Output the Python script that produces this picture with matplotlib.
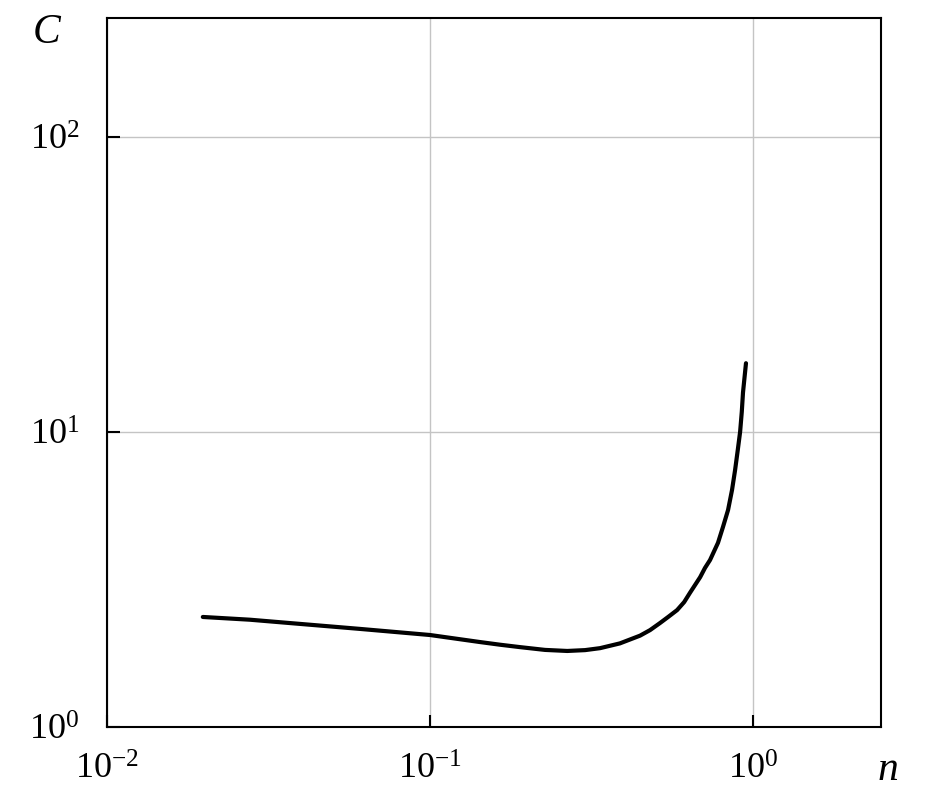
import matplotlib
matplotlib.use("Agg")
import matplotlib.pyplot as plt

plt.rcParams['font.family'] = ['Liberation Serif', 'DejaVu Serif']
plt.rcParams['mathtext.fontset'] = 'custom'
plt.rcParams['mathtext.rm'] = 'Liberation Serif'
plt.rcParams['mathtext.it'] = 'Liberation Serif:italic'

# values
n = [0.0198, 0.0277, 0.0369, 0.0607, 0.100, 0.143, 0.165, 0.190, 0.227,
     0.266, 0.302, 0.336, 0.387, 0.447, 0.480, 0.515, 0.546, 0.582,
     0.612, 0.638, 0.686, 0.710, 0.736, 0.779, 0.807, 0.837, 0.861,
     0.880, 0.897, 0.912, 0.923, 0.931, 0.951]
C = [2.36, 2.31, 2.25, 2.15, 2.05, 1.94, 1.90, 1.865, 1.825,
     1.81, 1.822, 1.85, 1.92, 2.04, 2.13, 2.25, 2.36, 2.49,
     2.65, 2.85, 3.22, 3.46, 3.68, 4.21, 4.76, 5.44, 6.36,
     7.43, 8.69, 10.0, 11.7, 13.6, 17.1]

xticks = [1e-2, 1e-1, 1e0]
xtick_labels = [r'$10^{-2}$', r'$10^{-1}$', r'$10^{0}$']
yticks = [1e0, 1e1, 1e2]
ytick_labels = [r'$10^{0}$', r'$10^{1}$', r'$10^{2}$']

fig = plt.figure(figsize=(9.51, 7.96), dpi=100)
ax = fig.add_axes([0.1125, 0.0867, 0.8139, 0.8907])

ax.plot(n, C, color='black', lw=3, solid_capstyle='round', solid_joinstyle='round')

ax.set_xscale('log')
ax.set_yscale('log')
ax.set_xlim(1e-2, 2.49)
ax.set_ylim(1e0, 253)

ax.set_xticks(xticks)
ax.set_xticklabels(xtick_labels)
ax.set_yticks(yticks)
ax.set_yticklabels(ytick_labels)
ax.minorticks_off()

ax.grid(True, color='#c4c4c4', lw=1.0)
ax.tick_params(direction='in', length=9, width=1.5, labelsize=26)
ax.tick_params(axis='x', pad=19)
ax.tick_params(axis='y', pad=20)
for s in ax.spines.values():
    s.set_linewidth(1.5)

fig.text(47 / 951, 1 - 33 / 796, 'C', fontsize=30, style='italic', ha='center', va='center')
fig.text(888 / 951, 1 - 770 / 796, 'n', fontsize=30, style='italic', ha='center', va='center')

fig.savefig('out.png', dpi=100)
